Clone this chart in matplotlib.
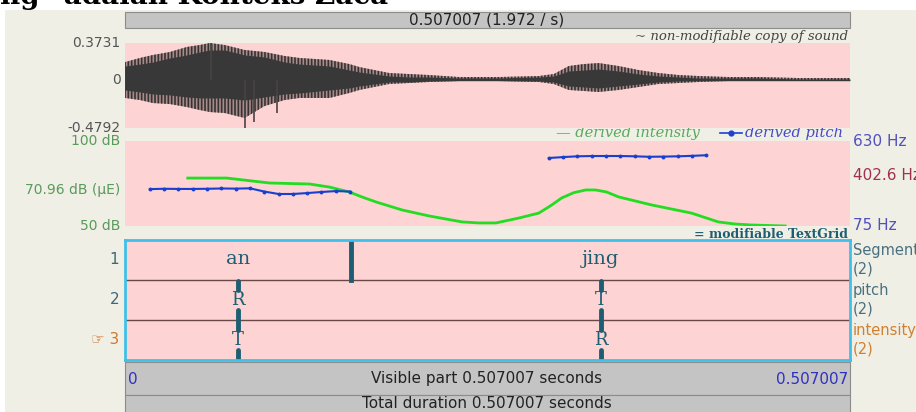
import numpy as np
import matplotlib
matplotlib.use("Agg")
import matplotlib.pyplot as plt
from matplotlib.patches import Rectangle

plt.rcParams["hatch.linewidth"] = 1.2

# Praat TextGrid editor, sound "an jing"
duration = 0.507007

# waveform envelope (seconds, amplitude)
t_wave = [0.0000, 0.0105, 0.0195, 0.0314, 0.0432, 0.0523, 0.0593, 0.0697, 0.0837, 0.0976,
          0.1116, 0.1220, 0.1430, 0.1569, 0.1639, 0.1743, 0.1848, 0.1988, 0.2127, 0.2336,
          0.2615, 0.2894, 0.2999, 0.3103, 0.3208, 0.3313, 0.3452, 0.3592, 0.3731, 0.3871,
          0.4010, 0.4219, 0.4428, 0.4707, 0.5070]
tip_top = [0.182, 0.223, 0.253, 0.283, 0.333, 0.353, 0.373, 0.353, 0.303, 0.283,
           0.243, 0.223, 0.203, 0.162, 0.132, 0.102, 0.072, 0.062, 0.052, 0.032,
           0.032, 0.042, 0.062, 0.142, 0.162, 0.172, 0.142, 0.102, 0.072, 0.052,
           0.042, 0.032, 0.032, 0.022, 0.022]
body_top = [0.142, 0.162, 0.182, 0.223, 0.253, 0.283, 0.303, 0.303, 0.253, 0.233,
            0.182, 0.162, 0.142, 0.102, 0.082, 0.062, 0.042, 0.032, 0.032, 0.022,
            0.022, 0.032, 0.042, 0.092, 0.102, 0.112, 0.092, 0.062, 0.042, 0.032,
            0.022, 0.022, 0.022, 0.012, 0.012]
body_bot = [-0.098, -0.118, -0.138, -0.148, -0.168, -0.178, -0.178, -0.178, -0.199, -0.168,
            -0.138, -0.128, -0.098, -0.078, -0.058, -0.038, -0.018, -0.018, -0.008, -0.005,
            -0.005, -0.008, -0.018, -0.058, -0.068, -0.078, -0.058, -0.038, -0.018, -0.008,
            -0.005, -0.005, -0.005, -0.005, -0.005]
tip_bot = [-0.178, -0.199, -0.229, -0.239, -0.269, -0.299, -0.319, -0.329, -0.379, -0.259,
           -0.199, -0.178, -0.178, -0.128, -0.098, -0.068, -0.038, -0.028, -0.018, -0.008,
           -0.008, -0.018, -0.038, -0.098, -0.108, -0.118, -0.098, -0.068, -0.038, -0.028,
           -0.018, -0.008, -0.008, -0.008, -0.008]
spike_t = [0.0600, 0.0837, 0.0905, 0.1060]
spike_amp = [0.373, -0.4792, -0.42, -0.33]

# derived intensity (dB)
t_int = [0.0439, 0.0711, 0.1011, 0.1290, 0.1430, 0.1569, 0.1660, 0.1757, 0.1939, 0.2127,
         0.2357, 0.2476, 0.2594, 0.2755, 0.2894, 0.2978, 0.3054, 0.3138, 0.3222, 0.3291,
         0.3368, 0.3452, 0.3682, 0.3961, 0.4149, 0.4263, 0.4380, 0.4617]
intensity = [78.2, 78.2, 75.3, 74.7, 72.9, 70.0, 67.0, 64.1, 59.4, 55.9,
             52.4, 51.8, 51.8, 54.7, 57.6, 62.0, 66.5, 69.6, 71.2, 71.2,
             70.0, 67.1, 62.4, 57.6, 52.4, 51.2, 50.6, 50.0]

# derived pitch (Hz), NaN = unvoiced gap
t_pitch = [0.0174, 0.0274, 0.0374, 0.0474, 0.0574, 0.0674, 0.0774, 0.0874, 0.0974, 0.1074,
           0.1174, 0.1274, 0.1374, 0.1474, 0.1574, 0.2200,
           0.2964, 0.3064, 0.3164, 0.3264, 0.3364, 0.3464, 0.3564, 0.3664, 0.3764, 0.3864,
           0.3964, 0.4064]
pitch = [316, 318, 317, 317, 318, 320, 319, 321, 300, 284,
         284, 290, 297, 303, 300, np.nan,
         519, 525, 530, 532, 532, 532, 530, 527, 528, 530,
         533, 537]

# TextGrid
tier_names = ["Segments", "pitch", "intensity"]
seg_bounds = [0.0, 0.1583, duration]
seg_labels = ["an", "jing"]
pitch_points = [0.0788, 0.3327]
pitch_marks = ["R", "T"]
int_points = [0.0788, 0.3327]
int_marks = ["T", "R"]

W, H = 916, 412
BG = "#EFEFE6"
PINK = "#FDD3D3"
TEAL = "#1E5E72"
GRAYBAR = "#C4C4C4"


def box(x0, y0, x1, y1):
    return [x0 / W, 1 - y1 / H, (x1 - x0) / W, (y1 - y0) / H]


fig = plt.figure(figsize=(W / 100, H / 100), dpi=100)
fig.patch.set_facecolor("white")

# background layer in pixel units
ax0 = fig.add_axes([0, 0, 1, 1])
ax0.set_xlim(0, W)
ax0.set_ylim(H, 0)
ax0.axis("off")
ax0.add_patch(Rectangle((5, 10), W - 5, H - 10, color=BG, lw=0))
ax0.text(0, 4, "ng\" adalah Konteks Zaca", fontsize=20, fontweight="bold",
         family="DejaVu Serif", va="baseline", ha="left", color="black")

ax0.add_patch(Rectangle((125, 12), 725, 16, fc=GRAYBAR, ec="#8C8C8C", lw=0.8))
ax0.text(487, 20, "0.507007 (1.972 / s)", ha="center", va="center", fontsize=11, color="#222222")
ax0.text(848, 36, "~ non-modifiable copy of sound", ha="right", va="center",
         family="DejaVu Serif", style="italic", fontsize=9.5, color="#444444")

ax0.text(700, 133, "\u2014 derived intensity", ha="right", va="center",
         family="DejaVu Serif", style="italic", fontsize=10.5, color="#5CA85C")
ax0.plot([720, 742], [133, 133], color="#2040D0", lw=1.2)
ax0.plot([731], [133], "o", ms=3.5, color="#2040D0")
ax0.text(745, 133, "derived pitch", ha="left", va="center",
         family="DejaVu Serif", style="italic", fontsize=10.5, color="#4848C8")
ax0.text(848, 234, "= modifiable TextGrid", ha="right", va="center",
         family="DejaVu Serif", fontweight="bold", fontsize=9, color=TEAL)

ax0.add_patch(Rectangle((125, 362), 725, 33, fc=GRAYBAR, ec="#8C8C8C", lw=0.8))
ax0.add_patch(Rectangle((125, 395), 725, 20, fc=GRAYBAR, ec="#8C8C8C", lw=0.8))
ax0.text(128, 379, "0", ha="left", va="center", fontsize=11, color="#3030C0")
ax0.text(487, 379, "Visible part 0.507007 seconds", ha="center", va="center", fontsize=11, color="#222222")
ax0.text(848, 379, "0.507007", ha="right", va="center", fontsize=11, color="#3030C0")
ax0.text(487, 404, "Total duration 0.507007 seconds", ha="center", va="center", fontsize=11, color="#222222")

# waveform
ax_w = fig.add_axes(box(125, 43, 850, 128))
ax_w.set_facecolor(PINK)
ax_w.fill_between(t_wave, tip_bot, tip_top, facecolor="#A88C8C", edgecolor="#363232",
                  hatch="|||||", lw=0)
ax_w.fill_between(t_wave, body_bot, body_top, color="#383838", lw=0)
ax_w.vlines(spike_t, 0, spike_amp, color="#4A4444", lw=1.2)
ax_w.set_xlim(0, duration)
ax_w.set_ylim(-0.4792, 0.3731)
ax_w.set_xticks([])
ax_w.set_yticks([])
for s in ax_w.spines.values():
    s.set_visible(False)
tw = ax_w.get_yaxis_transform()
for v, lab in [(0.3731, "0.3731"), (0.0, "0"), (-0.4792, "-0.4792")]:
    ax_w.text(-0.006, v, lab, transform=tw, ha="right", va="center", fontsize=10, color="#555555")

# intensity + pitch
ax_i = fig.add_axes(box(125, 141, 850, 226))
ax_i.set_facecolor(PINK)
ax_i.plot(t_int, intensity, color="#22DD22", lw=2)
ax_i.set_xlim(0, duration)
ax_i.set_ylim(50, 100)
ax_i.set_xticks([])
ax_i.set_yticks([])
ti = ax_i.get_yaxis_transform()
for v, lab in [(100, "100 dB"), (70.96, "70.96 dB (\u03bcE)"), (50, "50 dB")]:
    ax_i.text(-0.006, v, lab, transform=ti, ha="right", va="center", fontsize=10, color="#5A9A5A")

ax_p = ax_i.twinx()
ax_p.plot(t_pitch, pitch, color="#1840D0", lw=1.5, marker="o", ms=1.8)
ax_p.set_xlim(0, duration)
ax_p.set_ylim(75, 630)
ax_p.set_yticks([])
for ax in (ax_i, ax_p):
    for s in ax.spines.values():
        s.set_visible(False)
tp = ax_p.get_yaxis_transform()
for v, lab, c in [(630, "630 Hz", "#5050C0"), (402.6, "402.6 Hz", "#A03050"), (75, "75 Hz", "#5050C0")]:
    ax_p.text(1.004, v, lab, transform=tp, ha="left", va="center", fontsize=11, color=c)

# TextGrid tiers
ax_t = fig.add_axes(box(125, 240, 850, 360))
ax_t.set_facecolor(PINK)
ax_t.set_xlim(0, duration)
ax_t.set_ylim(3, 0)
ax_t.set_xticks([])
ax_t.set_yticks([])
for s in ax_t.spines.values():
    s.set_color("#40C0E8")
    s.set_linewidth(2)
ax_t.hlines([1, 2], 0, duration, color="#6A4848", lw=1)

for b in seg_bounds[1:-1]:
    ax_t.plot([b, b], [0, 1], color=TEAL, lw=3.5)
for i, lab in enumerate(seg_labels):
    mid = (seg_bounds[i] + seg_bounds[i + 1]) / 2
    ax_t.text(mid, 0.48, lab, ha="center", va="center", family="DejaVu Serif", fontsize=14, color=TEAL)

for row, pts, marks in [(1, pitch_points, pitch_marks), (2, int_points, int_marks)]:
    for t, m in zip(pts, marks):
        ax_t.plot([t, t], [row + 0.03, row + 0.25], color=TEAL, lw=3.5, solid_capstyle="round")
        ax_t.plot([t, t], [row + 0.75, row + 0.97], color=TEAL, lw=3.5, solid_capstyle="round")
        ax_t.text(t, row + 0.5, m, ha="center", va="center", family="DejaVu Serif", fontsize=13, color=TEAL)

tt = ax_t.get_yaxis_transform()
num_colors = ["#3C6878", "#3C6878", "#D07830"]
name_colors = ["#4A7080", "#4A7080", "#D08030"]
for i, name in enumerate(tier_names):
    lab = str(i + 1) if i < 2 else "\u261e 3"
    ax_t.text(-0.008, i + 0.5, lab, transform=tt, ha="right", va="center", fontsize=11, color=num_colors[i])
    ax_t.text(1.004, i + 0.27, name, transform=tt, ha="left", va="center", fontsize=10.5, color=name_colors[i])
    ax_t.text(1.004, i + 0.72, "(2)", transform=tt, ha="left", va="center", fontsize=10.5, color=name_colors[i])

fig.savefig("out.png", dpi=100)
